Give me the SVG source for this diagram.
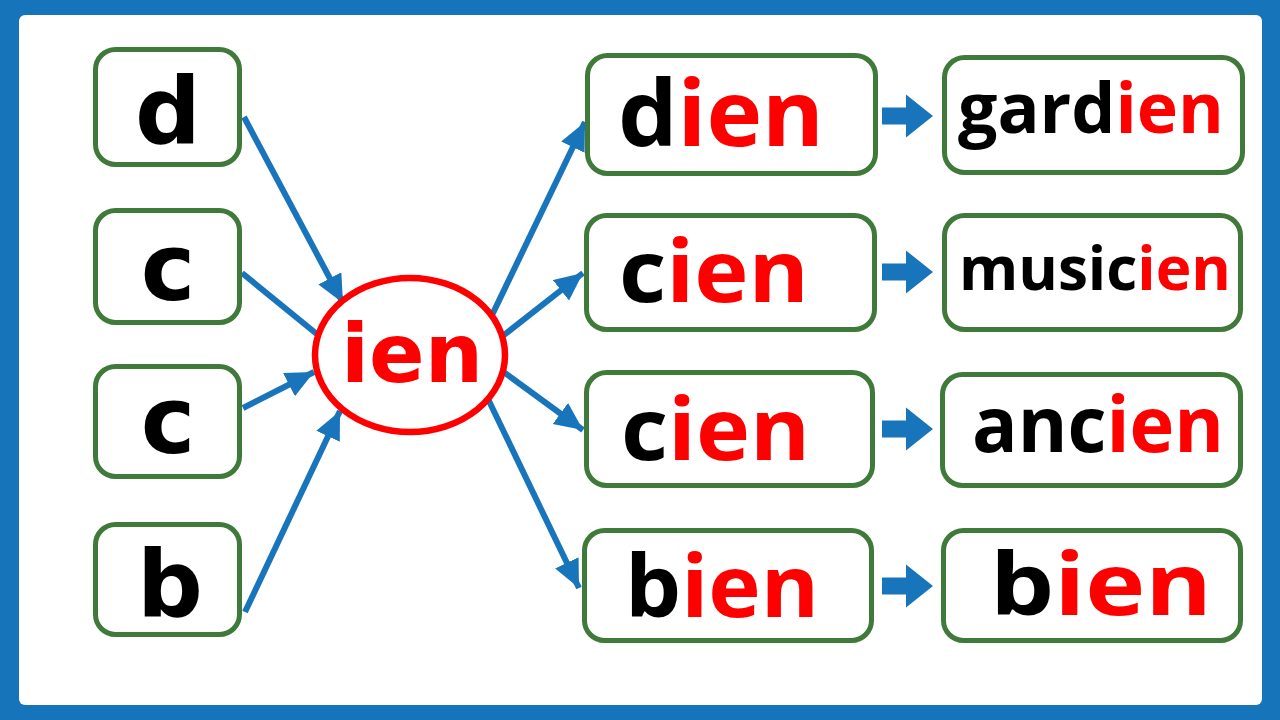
<svg xmlns="http://www.w3.org/2000/svg" width="1280" height="720" viewBox="0 0 1280 720">
<defs>
<style>
.box{fill:#fff;stroke:#3f7a3a;stroke-width:5}
.lt{font-family:"DejaVu Sans",Verdana,sans-serif;font-weight:bold;font-size:92px;fill:#000;text-anchor:middle}
.w{font-family:"Open Sans","Noto Sans",sans-serif;font-weight:bold;fill:#000}
.r{fill:#ff0000}
.con{stroke:#1874bb;stroke-width:6;fill:none}
.blk{fill:#1874bb}
</style>
<marker id="ah" markerUnits="userSpaceOnUse" markerWidth="32" markerHeight="28" refX="28" refY="13" orient="auto">
<path d="M0,0 L28,13 L0,26 Z" fill="#1874bb"/>
</marker>
<path id="blkArrow" d="M882,-8.5 H906 V-21.5 L933,0 L906,21.5 V8.5 H882 Z"/>
</defs>
<rect x="0" y="0" width="1280" height="720" fill="#1574ba"/>
<rect x="19" y="15" width="1243" height="690" rx="6" fill="#fff"/>

<g id="connectors">
<line class="con" x1="244" y1="117" x2="343" y2="303" marker-end="url(#ah)"/>
<line class="con" x1="242" y1="273" x2="318" y2="335"/>
<line class="con" x1="243" y1="408" x2="314" y2="372" marker-end="url(#ah)"/>
<line class="con" x1="245" y1="612" x2="340" y2="411" marker-end="url(#ah)"/>
<line class="con" x1="480" y1="340" x2="585" y2="122" marker-end="url(#ah)"/>
<line class="con" x1="490" y1="346" x2="583" y2="273" marker-end="url(#ah)"/>
<line class="con" x1="490" y1="362" x2="583" y2="430" marker-end="url(#ah)"/>
<line class="con" x1="475" y1="372" x2="579" y2="588" marker-end="url(#ah)"/>
<use href="#blkArrow" class="blk" transform="translate(0,116)"/>
<use href="#blkArrow" class="blk" transform="translate(0,272)"/>
<use href="#blkArrow" class="blk" transform="translate(0,429)"/>
<use href="#blkArrow" class="blk" transform="translate(0,586)"/>
</g>

<g id="node-d"><rect class="box" x="95.5" y="49.5" width="144" height="115" rx="20"/><text class="lt" x="168" y="144">d</text></g>
<g id="node-c1"><rect class="box" x="95.5" y="210.5" width="144" height="112" rx="20"/><text class="lt" x="168" y="300">c</text></g>
<g id="node-c2"><rect class="box" x="95.5" y="366.5" width="144" height="110" rx="20"/><text class="lt" x="168" y="453">c</text></g>
<g id="node-b"><rect class="box" x="95.5" y="524.5" width="144" height="110" rx="20"/><text class="lt" x="170" y="617">b</text></g>

<g id="node-ien">
<ellipse cx="410" cy="355" rx="95" ry="77" fill="#fff" stroke="#ff0000" stroke-width="6.5"/>
<text x="412" y="382" font-family="'DejaVu Sans',Verdana,sans-serif" font-weight="bold" font-size="82" fill="#ff0000" text-anchor="middle">ien</text>
</g>

<g id="node-dien"><rect class="box" x="587.5" y="55.5" width="288" height="118" rx="20"/><text class="w" x="618" y="146" font-size="92" textLength="206" lengthAdjust="spacingAndGlyphs">d<tspan class="r">ien</tspan></text></g>
<g id="node-cien1"><rect class="box" x="586.5" y="215.5" width="288" height="114" rx="20"/><text class="w" x="619" y="302" font-size="86" textLength="190" lengthAdjust="spacingAndGlyphs">c<tspan class="r">ien</tspan></text></g>
<g id="node-cien2"><rect class="box" x="586.5" y="372.5" width="286" height="113" rx="20"/><text class="w" x="621" y="460" font-size="86" textLength="189" lengthAdjust="spacingAndGlyphs">c<tspan class="r">ien</tspan></text></g>
<g id="node-bien1"><rect class="box" x="584.5" y="530.5" width="287" height="110" rx="20"/><text class="w" x="625" y="617" font-size="86" textLength="194" lengthAdjust="spacingAndGlyphs">b<tspan class="r">ien</tspan></text></g>

<g id="node-gardien"><rect class="box" x="944.5" y="57.5" width="298" height="115" rx="20"/><text class="w" x="958" y="133" font-size="70" textLength="266" lengthAdjust="spacingAndGlyphs">gard<tspan class="r">ien</tspan></text></g>
<g id="node-musicien"><rect class="box" x="944.5" y="215.5" width="296" height="114" rx="20"/><text class="w" x="959" y="290" font-size="61" textLength="272" lengthAdjust="spacingAndGlyphs">music<tspan class="r">ien</tspan></text></g>
<g id="node-ancien"><rect class="box" x="942.5" y="374.5" width="298" height="111" rx="20"/><text class="w" x="972" y="452" font-size="77" textLength="252" lengthAdjust="spacingAndGlyphs">anc<tspan class="r">ien</tspan></text></g>
<g id="node-bien2"><rect class="box" x="943.5" y="530.5" width="297" height="110" rx="20"/><text class="w" x="990" y="615" font-size="86" textLength="222" lengthAdjust="spacingAndGlyphs">b<tspan class="r">ien</tspan></text></g>
</svg>
